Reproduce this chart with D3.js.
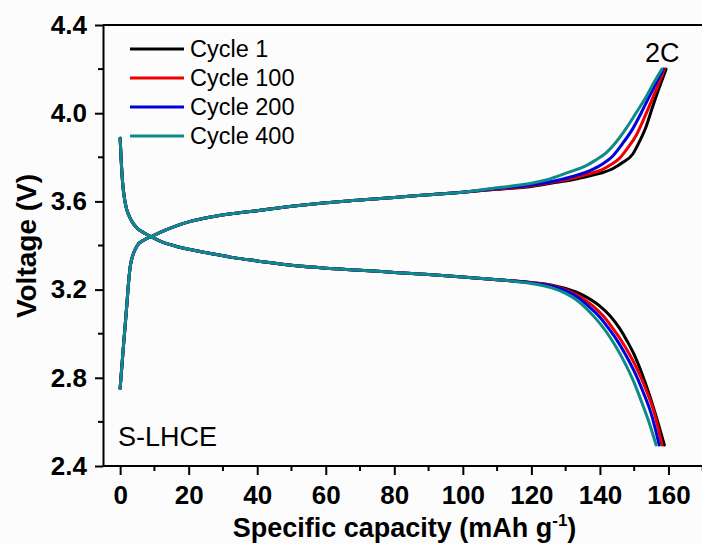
<!DOCTYPE html>
<meta charset="utf-8">
<title>Voltage profiles</title>
<style>
  body { margin: 0; background: #fcfcfc; }
  svg { display: block; font-family: "Liberation Sans", Arial, sans-serif; }
  .curve { fill: none; stroke-width: 3px; stroke-linejoin: round; stroke-linecap: round; }
  .axis path, .axis line { stroke: #000; stroke-width: 2px; }
  .axis text { font-size: 26px; font-weight: bold; fill: #000; }
</style>
<body>
<script src="https://d3js.org/d3.v7.min.js"></script>
<script>
// series names
var cycles = ["Cycle 1", "Cycle 100", "Cycle 200", "Cycle 400"];

// tick values
var xTicks = [0, 20, 40, 60, 80, 100, 120, 140, 160];
var yTicks = [2.4, 2.8, 3.2, 3.6, 4.0, 4.4];

// charge branch, shared by all cycles up to 110 mAh/g
var chargeCap = [0, 1, 1.9, 2.5, 3, 3.8, 5, 7, 9, 12, 16, 20, 26, 33, 40, 50, 60, 70, 80, 90, 100, 110];
var chargeV   = [2.752, 2.95, 3.12, 3.24, 3.31, 3.36, 3.40, 3.425, 3.44, 3.462, 3.487, 3.507, 3.528, 3.545, 3.558, 3.578, 3.594, 3.606, 3.618, 3.63, 3.642, 3.655];

// discharge branch, shared by all cycles up to 110 mAh/g
var dischCap = [0, 0.3, 0.7, 1.2, 1.8, 2.6, 3.6, 5, 7, 9, 12, 16, 20, 26, 33, 40, 50, 60, 70, 80, 90, 100, 110];
var dischV   = [3.886, 3.79, 3.69, 3.62, 3.57, 3.535, 3.505, 3.478, 3.457, 3.44, 3.418, 3.398, 3.383, 3.365, 3.345, 3.33, 3.31, 3.297, 3.288, 3.278, 3.268, 3.257, 3.245];

// charge tails (110 mAh/g onward)
var chargeTailCap1   = [110, 120, 126, 132, 136, 140, 143.7, 146.5, 149.6, 151.5, 153.5, 155.4, 157.3, 159.3];
var chargeTailV1     = [3.655, 3.668, 3.683, 3.698, 3.712, 3.727, 3.748, 3.775, 3.815, 3.87, 3.94, 4.03, 4.115, 4.2];
var chargeTailCap100 = [110, 120, 126, 132, 136, 140.8, 143, 145.7, 148, 150.6, 152.7, 154.9, 156.9, 158.8];
var chargeTailV100   = [3.656, 3.671, 3.687, 3.705, 3.722, 3.745, 3.765, 3.795, 3.84, 3.9, 3.97, 4.05, 4.125, 4.2];
var chargeTailCap200 = [110, 120, 126, 132, 137.9, 141, 143.7, 146.5, 149.6, 152, 154.4, 156.5, 158.5];
var chargeTailV200   = [3.658, 3.674, 3.69, 3.713, 3.745, 3.772, 3.805, 3.86, 3.93, 4.0, 4.075, 4.14, 4.2];
var chargeTailCap400 = [110, 120, 124.3, 131, 136, 138.5, 141.8, 144.5, 147.6, 150.5, 153.5, 155.8, 158.1];
var chargeTailV400   = [3.662, 3.682, 3.697, 3.733, 3.762, 3.785, 3.82, 3.865, 3.93, 4.0, 4.075, 4.14, 4.2];

// discharge tails (110 mAh/g onward)
var dischTailCap1   = [110, 120, 126, 130, 135, 140, 143, 145.7, 148, 150, 152, 154.5, 156.5, 158.8];
var dischTailV1     = [3.245, 3.232, 3.22, 3.205, 3.175, 3.125, 3.08, 3.025, 2.965, 2.905, 2.83, 2.72, 2.62, 2.495];
var dischTailCap100 = [110, 120, 126, 130, 134, 138, 141, 143.5, 146, 148.5, 151, 153.5, 155.8, 158.1];
var dischTailV100   = [3.245, 3.231, 3.218, 3.2, 3.17, 3.125, 3.08, 3.03, 2.975, 2.91, 2.835, 2.745, 2.645, 2.495];
var dischTailCap200 = [110, 120, 126, 130, 134, 137, 140, 142.5, 145, 147.5, 150, 152.5, 155, 157.3];
var dischTailV200   = [3.245, 3.23, 3.215, 3.195, 3.16, 3.12, 3.075, 3.025, 2.97, 2.905, 2.83, 2.74, 2.635, 2.495];
var dischTailCap400 = [110, 120, 126, 130, 133, 136, 139, 141.8, 144.5, 147.2, 149.8, 152.3, 154.4, 156.4];
var dischTailV400   = [3.245, 3.228, 3.208, 3.183, 3.155, 3.115, 3.065, 3.01, 2.945, 2.87, 2.785, 2.685, 2.595, 2.495];

var colors = ["#000000", "#ee0000", "#0000dd", "#0e8a88"];

// build point lists from the arrays
function pts(cap, v) { return cap.map(function(c, i) { return {c: c, v: v[i]}; }); }
function join(headCap, headV, tailCap, tailV) {
  return pts(headCap.slice(0, -1), headV.slice(0, -1)).concat(pts(tailCap, tailV));
}
var series = [
  {name: cycles[0], charge: join(chargeCap, chargeV, chargeTailCap1, chargeTailV1),     disch: join(dischCap, dischV, dischTailCap1, dischTailV1)},
  {name: cycles[1], charge: join(chargeCap, chargeV, chargeTailCap100, chargeTailV100), disch: join(dischCap, dischV, dischTailCap100, dischTailV100)},
  {name: cycles[2], charge: join(chargeCap, chargeV, chargeTailCap200, chargeTailV200), disch: join(dischCap, dischV, dischTailCap200, dischTailV200)},
  {name: cycles[3], charge: join(chargeCap, chargeV, chargeTailCap400, chargeTailV400), disch: join(dischCap, dischV, dischTailCap400, dischTailV400)}
];

var W = 702, H = 545;
var mLeft = 103, mTop = 25, mBottom = 466;

var x = d3.scaleLinear().domain([-5, 170]).range([mLeft, mLeft + 175 * 3.427]);
var y = d3.scaleLinear().domain([2.4, 4.4]).range([mBottom, mTop]);

var svg = d3.select("body").append("svg")
  .attr("width", W)
  .attr("height", H);

svg.append("rect").attr("width", W).attr("height", H).attr("fill", "#fcfcfc");

var line = d3.line()
  .curve(d3.curveMonotoneX)
  .x(function(d) { return x(d.c); })
  .y(function(d) { return y(d.v); });

// curves
series.forEach(function(s, i) {
  svg.append("path").datum(s.charge).attr("class", "curve").attr("stroke", colors[i]).attr("d", line);
  svg.append("path").datum(s.disch).attr("class", "curve").attr("stroke", colors[i]).attr("d", line);
});

// top border
svg.append("line")
  .attr("x1", mLeft).attr("x2", W)
  .attr("y1", y(4.4)).attr("y2", y(4.4))
  .attr("stroke", "#000").attr("stroke-width", 2);

// x axis
var xAxis = svg.append("g")
  .attr("class", "axis")
  .attr("transform", "translate(0," + mBottom + ")")
  .call(d3.axisBottom(x).tickValues(xTicks).tickSize(9).tickSizeOuter(0).tickPadding(11));
xAxis.select(".domain").attr("d", "M" + mLeft + ",0H" + W);
xAxis.append("g").selectAll("line")
  .data(xTicks.map(function(t) { return t + 10; }))
  .enter().append("line")
  .attr("x1", function(d) { return x(d); }).attr("x2", function(d) { return x(d); })
  .attr("y1", 0).attr("y2", 5);

// y axis
var yAxis = svg.append("g")
  .attr("class", "axis")
  .attr("transform", "translate(" + mLeft + ",0)")
  .call(d3.axisLeft(y).tickValues(yTicks).tickFormat(d3.format(".1f")).tickSize(8).tickSizeOuter(0).tickPadding(8));
yAxis.append("g").selectAll("line")
  .data([2.6, 3.0, 3.4, 3.8, 4.2])
  .enter().append("line")
  .attr("x1", 0).attr("x2", -5)
  .attr("y1", function(d) { return y(d); }).attr("y2", function(d) { return y(d); });

// axis titles
var xt = svg.append("text")
  .attr("x", (mLeft + W) / 2 + 2)
  .attr("y", 537)
  .attr("text-anchor", "middle")
  .style("font-size", "27px")
  .style("font-weight", "bold")
  .text("Specific capacity (mAh g");
xt.append("tspan").attr("dy", -11).style("font-size", "17px").text("-1");
xt.append("tspan").attr("dy", 11).text(")");

svg.append("text")
  .attr("transform", "translate(36,246) rotate(-90)")
  .attr("text-anchor", "middle")
  .style("font-size", "28px")
  .style("font-weight", "bold")
  .text("Voltage (V)");

// legend
var leg = svg.append("g").attr("transform", "translate(130,49)");
cycles.forEach(function(c, i) {
  leg.append("line")
    .attr("x1", 0).attr("x2", 54)
    .attr("y1", i * 29).attr("y2", i * 29)
    .attr("stroke", colors[i]).attr("stroke-width", 3);
  leg.append("text")
    .attr("x", 60).attr("y", i * 29)
    .attr("dy", "0.35em")
    .style("font-size", "23.5px")
    .text(c);
});

// annotations
svg.append("text").attr("x", 645).attr("y", 62).style("font-size", "27px").text("2C");
svg.append("text").attr("x", 118).attr("y", 446).style("font-size", "27px").text("S-LHCE");
</script>
</body>
